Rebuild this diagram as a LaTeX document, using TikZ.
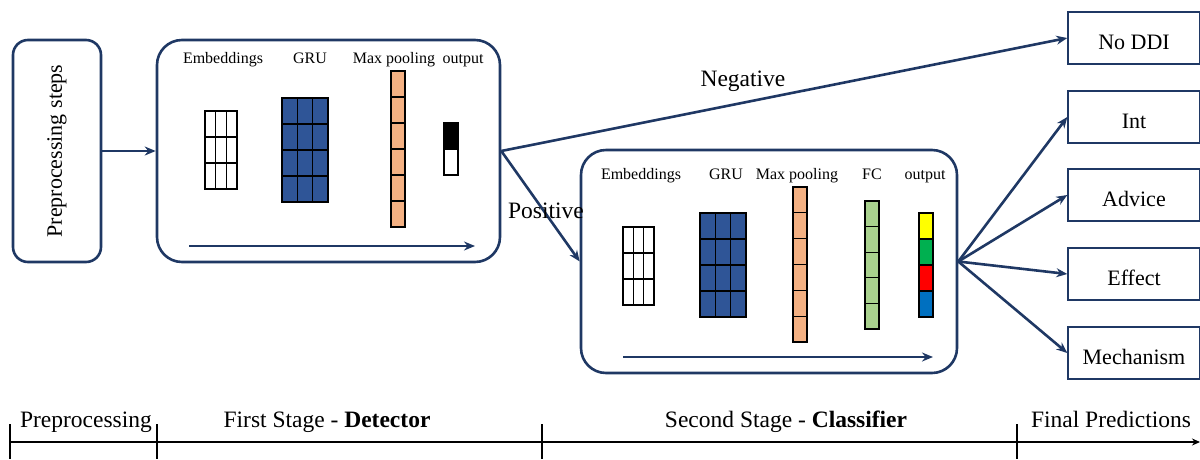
\documentclass[tikz,border=0pt]{standalone}
\usepackage{fontspec}
\setmainfont{Liberation Serif}
\usetikzlibrary{arrows.meta}
\definecolor{navy}{RGB}{31,56,100}
\definecolor{grublue}{RGB}{47,85,151}
\definecolor{poolorange}{RGB}{244,177,131}
\definecolor{fcgreen}{RGB}{169,209,142}
\definecolor{outyellow}{RGB}{255,255,0}
\definecolor{outgreen}{RGB}{0,176,80}
\definecolor{outred}{RGB}{255,0,0}
\definecolor{outblue}{RGB}{0,112,192}

\begin{document}
\begin{tikzpicture}[x=1pt,y=-1pt,
  stagebox/.style={draw=navy, line width=2.6pt, rounded corners=25pt, inner sep=0pt},
  classbox/.style={draw=navy, line width=1.4pt, minimum width=132pt, minimum height=52pt, inner sep=0pt, text height=22pt, text depth=0pt, font=\fontsize{22}{26}\selectfont},
  flow/.style={navy, line width=2.6pt, -{Stealth[length=11pt,width=9pt]}},
  cell/.style={draw=black, line width=1.2pt},
  lbl/.style={anchor=base, font=\fontsize{16}{19}\selectfont},
  big/.style={anchor=base, font=\fontsize{23.5}{28}\selectfont},
  axis/.style={black, line width=2.6pt}]
\useasboundingbox (0,0) rectangle (1200,459);

% boxes
\node[stagebox, rounded corners=15pt, minimum width=88pt, minimum height=222pt] (prep) at (57,151) {};
\node[rotate=90, font=\fontsize{22}{26}\selectfont] (preptext) at (prep.center) {Preprocessing steps};
\node[stagebox, minimum width=343pt, minimum height=222pt] (det) at (328.5,151) {};
\node[stagebox, minimum width=376pt, minimum height=223pt] (cls) at (769,261.5) {};

\node[classbox] (noddi) at (1134,38) {No DDI};
\node[classbox] (int) at (1134,117) {Int};
\node[classbox] (advice) at (1134,195) {Advice};
\node[classbox] (effect) at (1134,274) {Effect};
\node[classbox] (mech) at (1134,353) {Mechanism};

% connectors
\draw[flow] (prep.east) -- (det.west);
\draw[flow] (det.east) -- (noddi.west);
\draw[flow] (det.east) -- (cls.west);
\draw[flow] (cls.east) -- (int.west);
\draw[flow] (cls.east) -- (advice.west);
\draw[flow] (cls.east) -- (effect.west);
\draw[flow] (cls.east) -- (mech.west);
\node[big] (neg) at (743,86) {Negative};
\node[big] (pos) at (546,218) {Positive};

% first stage
\node[lbl] (demb) at (223,63) {Embeddings};
\node[lbl] (dgru) at (310,63) {GRU};
\node[lbl] (dpool) at (394,63) {Max pooling};
\node[lbl] (dout) at (463,63) {output};
\draw[cell, fill=white] (205,111) rectangle (237,189);
\draw[cell] (215.7,111) -- (215.7,189) (226.3,111) -- (226.3,189) (205,137) -- (237,137) (205,163) -- (237,163);
\draw[cell, fill=grublue] (282,98) rectangle (328,202);
\draw[cell] (297.3,98) -- (297.3,202) (312.7,98) -- (312.7,202) (282,124) -- (328,124) (282,150) -- (328,150) (282,176) -- (328,176);
\draw[cell, fill=poolorange] (391,71) rectangle (405,227);
\draw[cell] (391,97) -- (405,97) (391,123) -- (405,123) (391,149) -- (405,149) (391,175) -- (405,175) (391,201) -- (405,201);
\draw[cell, fill=black] (444,123) rectangle (458,149);
\draw[cell, fill=white] (444,149) rectangle (458,175);
\coordinate (detstart) at (189,246);
\coordinate (detend) at (475,246);
\draw[flow] (detstart) -- (detend);

% second stage
\node[lbl] (cemb) at (641,179) {Embeddings};
\node[lbl] (cgru) at (726,179) {GRU};
\node[lbl] (cpool) at (797,179) {Max pooling};
\node[lbl] (cfc) at (872,179) {FC};
\node[lbl] (cout) at (925,179) {output};
\draw[cell, fill=white] (623,227) rectangle (654,305);
\draw[cell] (633.3,227) -- (633.3,305) (643.7,227) -- (643.7,305) (623,253) -- (654,253) (623,279) -- (654,279);
\draw[cell, fill=grublue] (700,213) rectangle (746,317);
\draw[cell] (715.3,213) -- (715.3,317) (730.7,213) -- (730.7,317) (700,239) -- (746,239) (700,265) -- (746,265) (700,291) -- (746,291);
\draw[cell, fill=poolorange] (793,187) rectangle (807,342);
\draw[cell] (793,212.8) -- (807,212.8) (793,238.7) -- (807,238.7) (793,264.5) -- (807,264.5) (793,290.3) -- (807,290.3) (793,316.2) -- (807,316.2);
\draw[cell, fill=fcgreen] (865,201) rectangle (879,329);
\draw[cell] (865,226.6) -- (879,226.6) (865,252.2) -- (879,252.2) (865,277.8) -- (879,277.8) (865,303.4) -- (879,303.4);
\draw[cell, fill=outyellow] (919,213) rectangle (933,239);
\draw[cell, fill=outgreen] (919,239) rectangle (933,265);
\draw[cell, fill=outred] (919,265) rectangle (933,291);
\draw[cell, fill=outblue] (919,291) rectangle (933,317);
\coordinate (clsstart) at (623,357);
\coordinate (clsend) at (933,357);
\draw[flow] (clsstart) -- (clsend);

% timeline
\coordinate (tstart) at (10,442);
\coordinate (tend) at (1200,442);
\draw[axis, -{Stealth[length=8pt,width=7pt]}] (tstart) -- (tend);
\draw[axis] (10,424) -- (10,459);
\draw[axis] (157,424) -- (157,459);
\draw[axis] (542,424) -- (542,459);
\draw[axis] (1017,424) -- (1017,459);
\node[big] (tprep) at (86,427) {Preprocessing};
\node[big] (tdet) at (327,427) {First Stage - \textbf{Detector}};
\node[big] (tcls) at (786,427) {Second Stage - \textbf{Classifier}};
\node[big] (tfin) at (1111,427) {Final Predictions};
\end{tikzpicture}
\end{document}
